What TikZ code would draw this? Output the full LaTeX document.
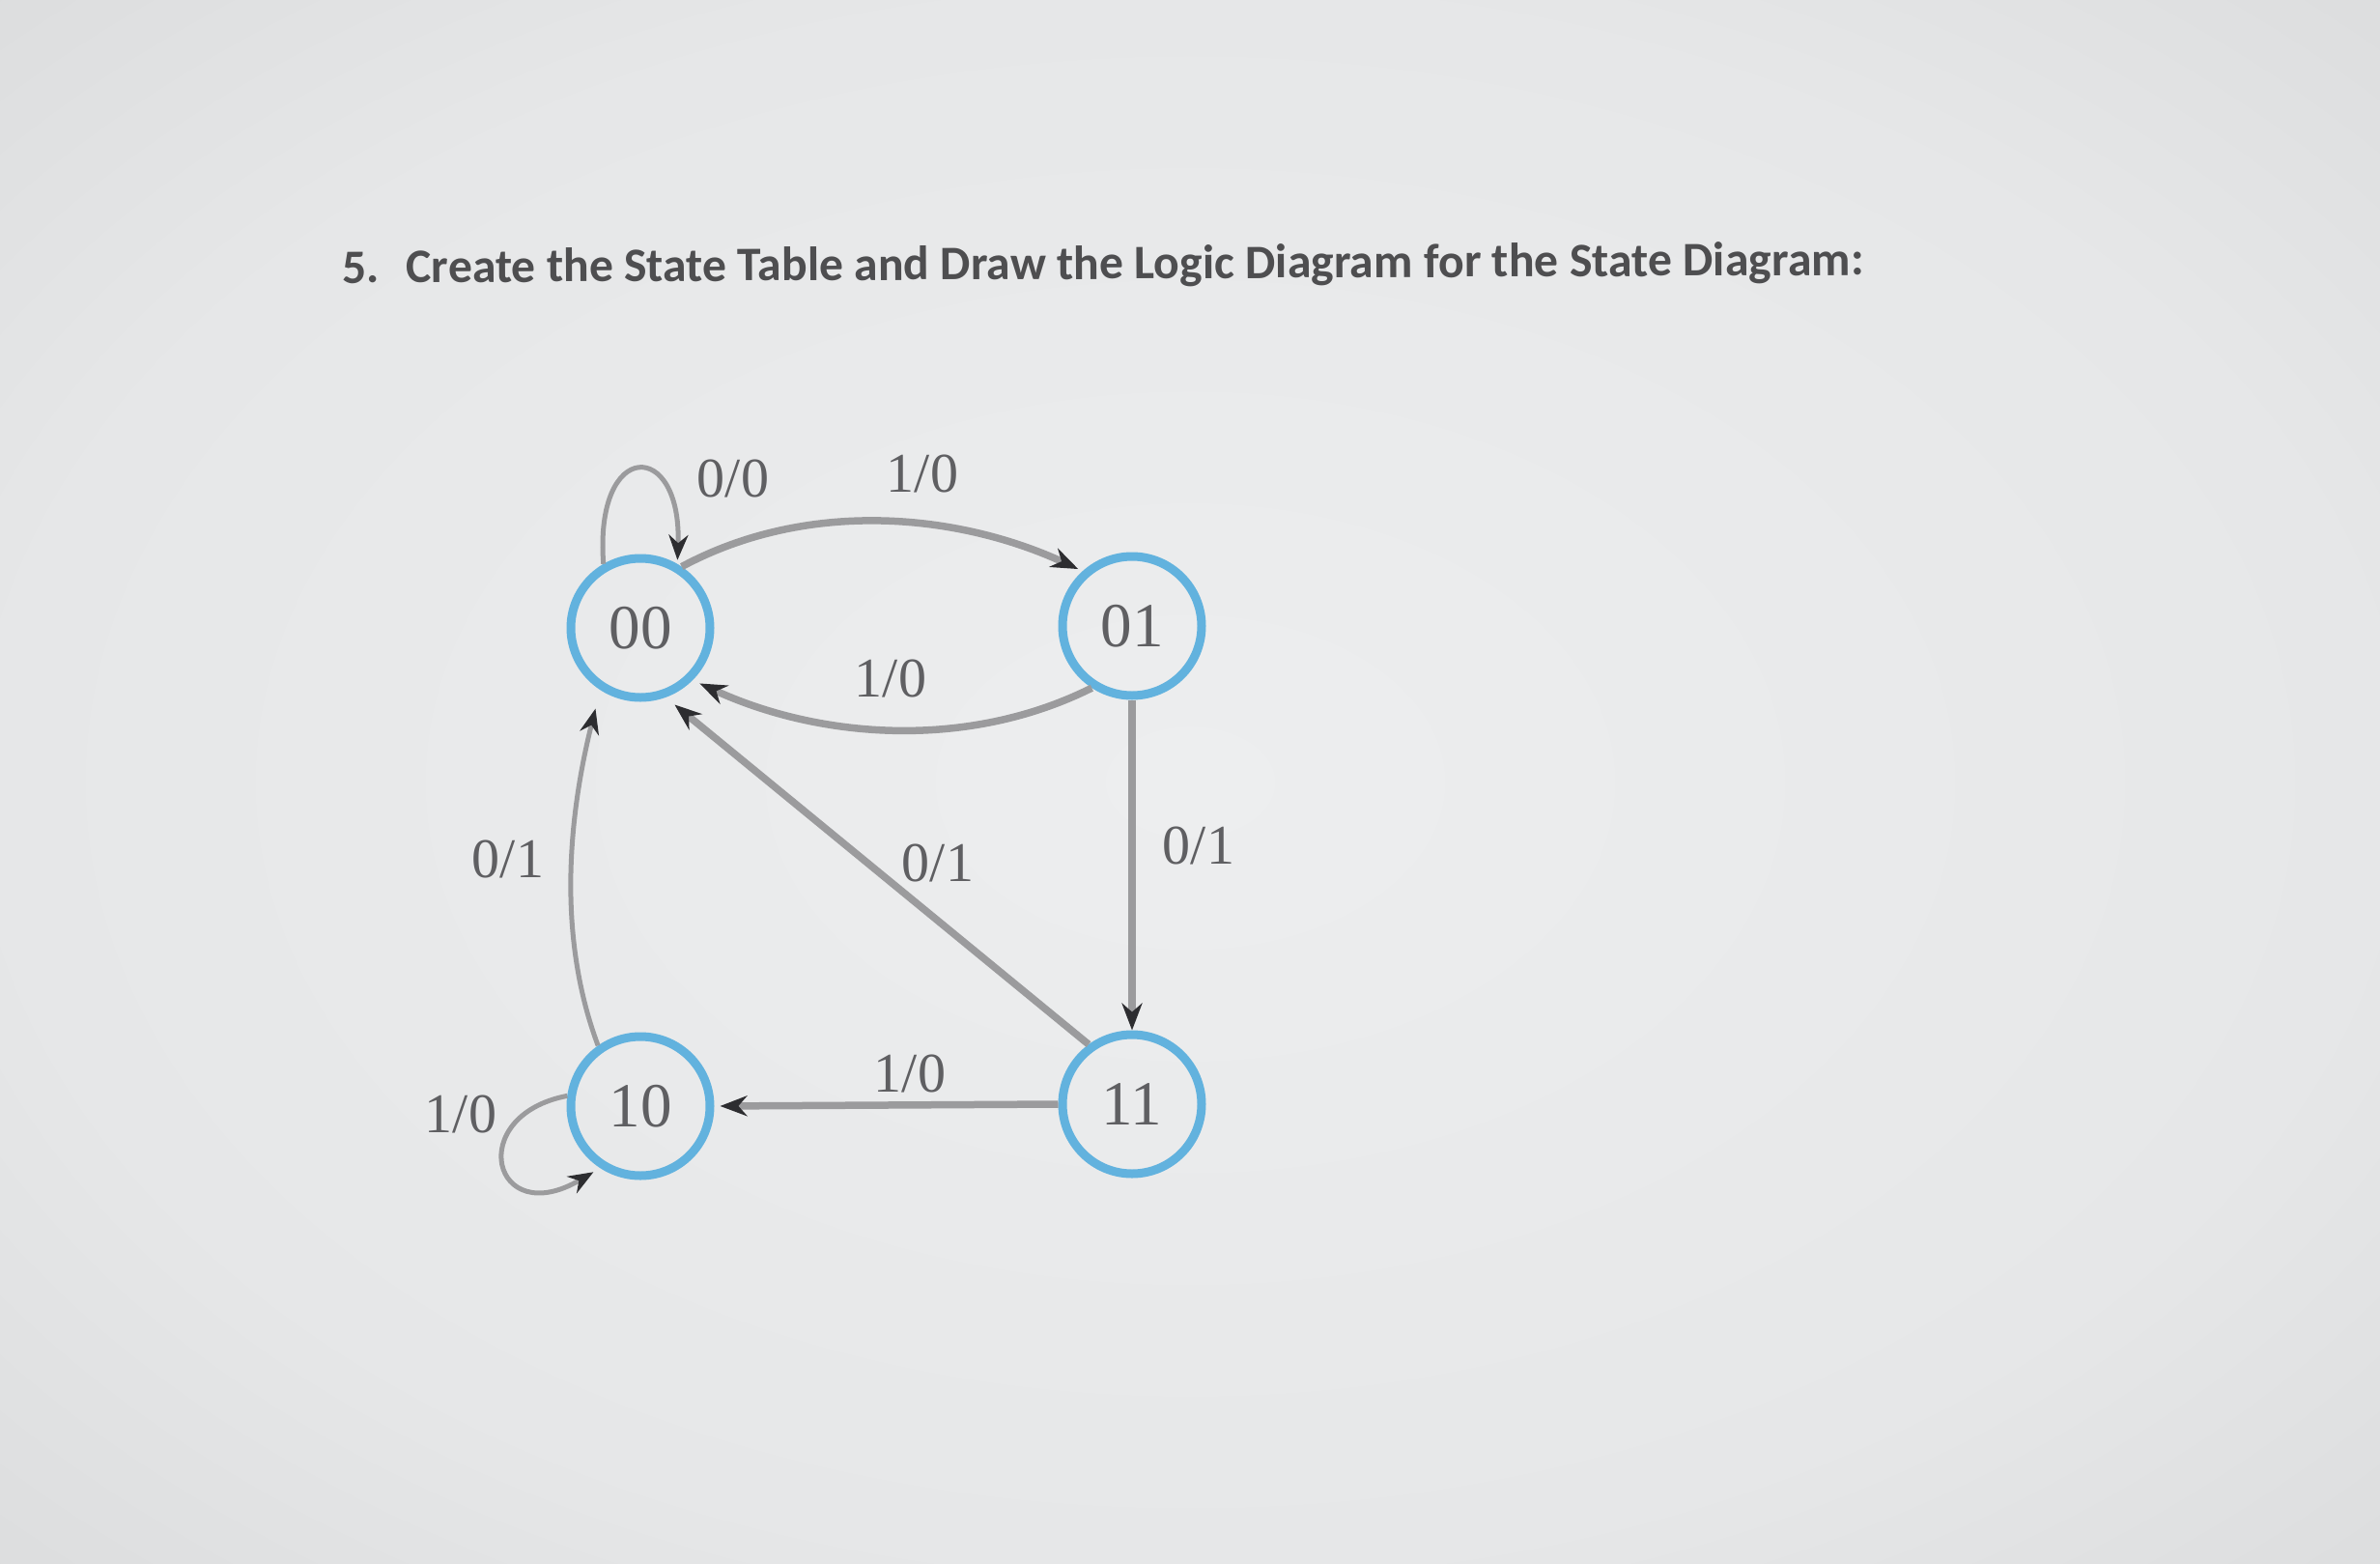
\documentclass[tikz,border=0pt]{standalone}
\usepackage{fontspec}
\setmainfont{Liberation Serif}
\newfontfamily\titlefont{Carlito}
\usetikzlibrary{arrows.meta}
\definecolor{bgc0}{RGB}{237,238,239}
\definecolor{bgc1}{RGB}{230,231,232}
\definecolor{bgc2}{RGB}{207,208,209}
\definecolor{bgc3}{RGB}{184,184,185}
\definecolor{stateblue}{RGB}{98,178,222}
\definecolor{edgegray}{RGB}{155,155,157}
\definecolor{arrowdark}{RGB}{45,45,48}
\definecolor{labelgray}{RGB}{95,95,98}
\definecolor{titlegray}{RGB}{78,78,80}
\pgfdeclareradialshading{vignette}{\pgfpoint{0bp}{0bp}}{color(0bp)=(bgc0); color(25bp)=(bgc1); color(50bp)=(bgc2); color(71bp)=(bgc3)}
\tikzset{
  stnode/.style={circle, draw=stateblue, line width=0.09cm, minimum size=1.44cm, inner sep=0pt,
    font=\fontsize{18.5}{20}\selectfont, text=labelgray},
  lbl/.style={font=\fontsize{16.5}{18}\selectfont, text=labelgray, inner sep=0pt},
  thickedge/.style={draw=edgegray, line width=0.075cm, -{Stealth[length=0.28cm,width=0.21cm,color=arrowdark]}},
  thinedge/.style={draw=edgegray, line width=0.05cm, -{Stealth[length=0.26cm,width=0.2cm,color=arrowdark]}}
}
\begin{document}
\begin{tikzpicture}
\useasboundingbox (0,0) rectangle (24.64,-16.19);
\shade[shading=vignette] (0,0) rectangle (24.64,-16.19);

\node[anchor=base west, inner sep=0pt, text=titlegray, rotate=0.3] (title) at (3.54,-2.93)
  {\resizebox{15.75cm}{!}{\titlefont\bfseries 5.\hspace{0.55em}Create the State Table and Draw the Logic Diagram for the State Diagram:}};

\node[stnode] (n00) at (6.63,-6.50) {00};
\node[stnode] (n01) at (11.72,-6.48) {01};
\node[stnode] (n10) at (6.63,-11.45) {10};
\node[stnode] (n11) at (11.72,-11.43) {11};

% self loop on 00
\draw[thinedge, shorten >=0.04cm] (n00.120) .. controls +(-0.1,1.3) and +(0.05,1.3) .. (n00.60);
% 00 -> 01
\draw[thickedge, shorten >=0.05cm] (n00.56) .. controls +(1.3,0.7) and +(-1.3,0.6) .. (n01.132);
% 01 -> 00
\draw[thickedge, shorten >=0.08cm] (n01.237) .. controls +(-1.3,-0.65) and +(1.3,-0.6) .. (n00.315);
% 01 -> 11
\draw[thickedge] (n01.south) -- (n11.north);
% 11 -> 00
\draw[thickedge, shorten >=0.12cm] (n11.126) -- (n00.290);
% 11 -> 10
\draw[thickedge, shorten >=0.06cm] (n11.west) -- (n10.east);
% 10 -> 00
\draw[thinedge, shorten >=0.2cm] (n10.125) .. controls +(-0.45,1.2) and +(-0.3,-1.2) .. (n00.237);
% self loop on 10
\draw[thinedge, shorten >=0.08cm] (n10.172) .. controls (4.8,-11.55) and (5.1,-12.75) .. (n10.237);

\node[lbl] (l00) at (7.59,-4.95) {0/0};
\node[lbl] (l0001) at (9.55,-4.90) {1/0};
\node[lbl] (l0100) at (9.22,-7.02) {1/0};
\node[lbl] (l0111) at (12.41,-8.75) {0/1};
\node[lbl] (l1100) at (9.71,-8.93) {0/1};
\node[lbl] (l1110) at (9.42,-11.11) {1/0};
\node[lbl] (l1000) at (5.26,-8.89) {0/1};
\node[lbl] (l1010) at (4.77,-11.53) {1/0};
\end{tikzpicture}
\end{document}
